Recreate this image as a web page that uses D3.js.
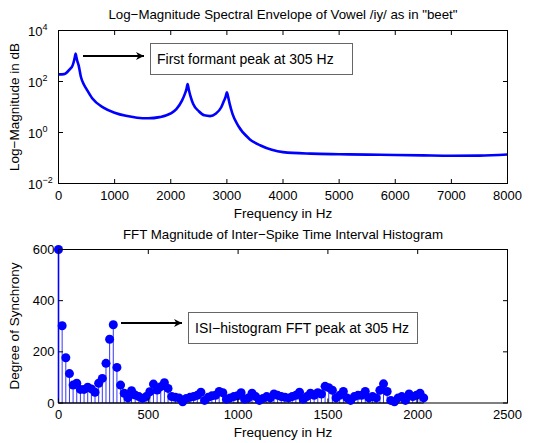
<!DOCTYPE html>
<html><head><meta charset="utf-8">
<script src="https://cdn.jsdelivr.net/npm/d3@7"></script>
<style>
body{margin:0;background:#fff;}
svg{display:block;font-family:"Liberation Sans",Arial,Helvetica,sans-serif;}
</style></head><body>
<svg id="c" width="555" height="443"></svg>
<script>
// ---- Top plot: spectral envelope (frequency in Hz, magnitude linear) ----
const envFreq = [0,100,200,250,280,295,305,315,330,360,400,450,500,600,800,1000,1200,1400,1600,1800,2000,2100,2200,2250,2280,2300,2320,2350,2400,2500,2600,2700,2800,2900,2950,2980,3000,3020,3050,3100,3200,3400,3600,3800,4000,4500,5000,5500,6000,6500,7000,7500,8000];
const envMag  = [190,195,300,420,700,1000,1250,1000,700,420,150,78,50,22,9.5,6.0,4.5,3.8,3.6,4.0,5.6,8.3,17.8,32,50,79,50,27.5,13.2,6.8,4.7,4.4,5.4,9.8,17.8,26,38,26,13.2,5.4,1.86,0.56,0.31,0.21,0.17,0.148,0.141,0.136,0.132,0.127,0.123,0.124,0.138];
const topXTicks = [0,1000,2000,3000,4000,5000,6000,7000,8000];
const topYExp = [-2,0,2,4];

// ---- Bottom plot: FFT of ISI histogram ----
const binHz = 305/15;
const isiMag = [600,302,177,115,70,77,53,53,62,55,42,77,96,155,249,306,139,70,38,20,48,31,25,18,25,44,74,51,64,79,57,25,
  22,20,5,18,22,25,30,42,10,22,28,30,45,40,15,20,25,28,40,15,20,38,25,10,18,25,20,35,30,25,22,20,25,30,42,15,25,38,30,40,35,65,60,50,20,30,45,20,10,25,30,30,45,20,25,20,50,75,45,10,5,20,25,10,35,25,30,38,20];
const botXTicks = [0,500,1000,1500,2000,2500];
const botYTicks = [0,200,400,600];

const svg = d3.select("#c");
const L = 58.5, R = 507.5;
const T1 = 30.5, B1 = 183.5, T2 = 249.5, B2 = 403;
const fs = 13;

// defs arrow
const defs = svg.append("defs");
defs.append("marker").attr("id","ah").attr("viewBox","0 0 10 10").attr("refX",10).attr("refY",5)
  .attr("markerWidth",12).attr("markerHeight",8).attr("markerUnits","userSpaceOnUse").attr("orient","auto")
  .append("path").attr("d","M0,0 L10,5 L0,10 L3,5 Z").attr("fill","#000");
defs.append("clipPath").attr("id","clip1").append("rect").attr("x",L).attr("y",T1).attr("width",R-L).attr("height",B1-T1);

// ===== Top =====
const x1 = d3.scaleLinear().domain([0,8000]).range([L,R]);
const y1 = d3.scaleLog().domain([1e-2,1e4]).range([B1,T1]);
const g1 = svg.append("g");

const line1 = d3.line().x((d,i)=>x1(envFreq[i])).y(d=>y1(d)).curve(d3.curveMonotoneX);
g1.append("path").datum(envMag).attr("d",line1).attr("fill","none").attr("stroke","#0000ff")
  .attr("stroke-width",2.6).attr("stroke-linejoin","round").attr("clip-path","url(#clip1)");

g1.append("rect").attr("x",L).attr("y",T1).attr("width",R-L).attr("height",B1-T1).attr("fill","none").attr("stroke","#000").attr("stroke-width",1);

g1.selectAll(".xt").data(topXTicks).join("g").each(function(d){
  const g=d3.select(this), xx=x1(d);
  g.append("line").attr("x1",xx).attr("x2",xx).attr("y1",B1).attr("y2",B1-4.5).attr("stroke","#000");
  g.append("line").attr("x1",xx).attr("x2",xx).attr("y1",T1).attr("y2",T1+4.5).attr("stroke","#000");
  g.append("text").attr("x",xx).attr("y",B1+16).attr("text-anchor","middle").attr("font-size",fs).text(d);
});
g1.selectAll(".yt").data(topYExp).join("g").each(function(d){
  const g=d3.select(this), yy=y1(Math.pow(10,d));
  g.append("line").attr("x1",L).attr("x2",L+4.5).attr("y1",yy).attr("y2",yy).attr("stroke","#000");
  g.append("line").attr("x1",R).attr("x2",R-4.5).attr("y1",yy).attr("y2",yy).attr("stroke","#000");
  const t=g.append("text").attr("x",28).attr("y",yy+5.5).attr("font-size",fs);
  t.append("tspan").text("10");
  t.append("tspan").attr("dy",-6.5).attr("font-size",9).text(d<0?"\u2212"+(-d):String(d));
});
svg.append("text").attr("x",283).attr("y",19).attr("text-anchor","middle").attr("font-size",13.3)
  .text("Log\u2212Magnitude Spectral Envelope of Vowel /iy/ as in \"beet\"");
svg.append("text").attr("x",283).attr("y",217.5).attr("text-anchor","middle").attr("font-size",13.5).text("Frequency in Hz");
svg.append("text").attr("transform","translate(19,107) rotate(-90)").attr("text-anchor","middle").attr("font-size",13.5).text("Log\u2212Magnitude in dB");

// annotation top
svg.append("line").attr("x1",83).attr("y1",56).attr("x2",144).attr("y2",56).attr("stroke","#000").attr("stroke-width",2).attr("marker-end","url(#ah)");
svg.append("rect").attr("x",150.5).attr("y",43.5).attr("width",202).attr("height",31).attr("fill","#fff").attr("stroke","#666").attr("stroke-width",1);
svg.append("text").attr("x",157).attr("y",63.5).attr("font-size",14).text("First formant peak at 305 Hz");

// ===== Bottom =====
const x2 = d3.scaleLinear().domain([0,2500]).range([L,R]);
const y2 = d3.scaleLinear().domain([0,600]).range([B2,T2]);
const g2 = svg.append("g");

g2.append("rect").attr("x",L).attr("y",T2).attr("width",R-L).attr("height",B2-T2).attr("fill","none").attr("stroke","#000").attr("stroke-width",1);

g2.selectAll(".stem").data(isiMag).join("line")
  .attr("x1",(d,i)=>x2(i*binHz)).attr("x2",(d,i)=>x2(i*binHz))
  .attr("y1",y2(0)).attr("y2",d=>y2(d)).attr("stroke","#0000ff").attr("stroke-width",(d,i)=>i===0?1.6:0.8);
g2.append("line").attr("x1",x2(0)).attr("x2",x2((isiMag.length-1)*binHz)).attr("y1",y2(0)).attr("y2",y2(0)).attr("stroke","#000");
g2.selectAll(".pt").data(isiMag).join("circle")
  .attr("cx",(d,i)=>x2(i*binHz)).attr("cy",d=>y2(d)).attr("r",4.5).attr("fill","#0000ff");

g2.selectAll(".xt").data(botXTicks).join("g").each(function(d){
  const g=d3.select(this), xx=x2(d);
  g.append("line").attr("x1",xx).attr("x2",xx).attr("y1",B2).attr("y2",B2-4.5).attr("stroke","#000");
  g.append("line").attr("x1",xx).attr("x2",xx).attr("y1",T2).attr("y2",T2+4.5).attr("stroke","#000");
  g.append("text").attr("x",xx).attr("y",B2+16).attr("text-anchor","middle").attr("font-size",fs).text(d);
});
g2.selectAll(".yt").data(botYTicks).join("g").each(function(d){
  const g=d3.select(this), yy=y2(d);
  g.append("line").attr("x1",L).attr("x2",L+4.5).attr("y1",yy).attr("y2",yy).attr("stroke","#000");
  g.append("line").attr("x1",R).attr("x2",R-4.5).attr("y1",yy).attr("y2",yy).attr("stroke","#000");
  g.append("text").attr("x",L-4).attr("y",yy+4.5).attr("text-anchor","end").attr("font-size",fs).text(d);
});
svg.append("text").attr("x",283).attr("y",239).attr("text-anchor","middle").attr("font-size",13.3)
  .text("FFT Magnitude of Inter\u2212Spike Time Interval Histogram");
svg.append("text").attr("x",283).attr("y",436.5).attr("text-anchor","middle").attr("font-size",13.5).text("Frequency in Hz");
svg.append("text").attr("transform","translate(19,326) rotate(-90)").attr("text-anchor","middle").attr("font-size",13.5).text("Degree of Synchrony");

svg.append("line").attr("x1",121).attr("y1",323).attr("x2",182).attr("y2",323).attr("stroke","#000").attr("stroke-width",2).attr("marker-end","url(#ah)");
svg.append("rect").attr("x",188.5).attr("y",312.5).attr("width",229).attr("height",31).attr("fill","#fff").attr("stroke","#666").attr("stroke-width",1);
svg.append("text").attr("x",195).attr("y",332.5).attr("font-size",14).text("ISI\u2212histogram FFT peak at 305 Hz");
</script></body></html>
